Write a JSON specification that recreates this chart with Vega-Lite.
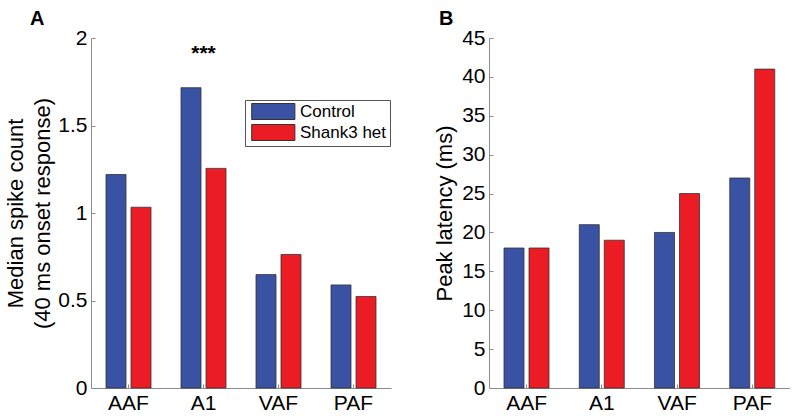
{
  "$schema": "https://vega.github.io/schema/vega-lite/v6.json",
  "padding": {"left": 4, "top": 9, "right": 0, "bottom": 0},
  "background": "white",
  "datasets": {
    "spikes": [
      {"region": "AAF", "group": "Control", "value": 1.22},
      {"region": "AAF", "group": "Shank3 het", "value": 1.033},
      {"region": "A1", "group": "Control", "value": 1.716},
      {"region": "A1", "group": "Shank3 het", "value": 1.255},
      {"region": "VAF", "group": "Control", "value": 0.648},
      {"region": "VAF", "group": "Shank3 het", "value": 0.763},
      {"region": "PAF", "group": "Control", "value": 0.589},
      {"region": "PAF", "group": "Shank3 het", "value": 0.523}
    ],
    "latency": [
      {"region": "AAF", "group": "Control", "value": 18},
      {"region": "AAF", "group": "Shank3 het", "value": 18},
      {"region": "A1", "group": "Control", "value": 21},
      {"region": "A1", "group": "Shank3 het", "value": 19},
      {"region": "VAF", "group": "Control", "value": 20},
      {"region": "VAF", "group": "Shank3 het", "value": 25},
      {"region": "PAF", "group": "Control", "value": 27},
      {"region": "PAF", "group": "Shank3 het", "value": 41}
    ],
    "sig": [
      {"region": "A1", "label": "***", "value": 1.875}
    ]
  },
  "spacing": 42,
  "resolve": {"legend": {"color": "independent"}},
  "hconcat": [
    {
      "width": 300,
      "height": 350,
      "title": {"text": "A", "anchor": "start", "frame": "group", "dx": -61, "offset": -2},
      "layer": [
        {
          "data": {"name": "spikes"},
          "mark": {"type": "bar", "stroke": "#333", "strokeWidth": 0.8},
          "encoding": {
            "x": {"field": "region", "type": "nominal", "sort": ["AAF", "A1", "VAF", "PAF"],
                  "scale": {"paddingInner": 0, "paddingOuter": 0},
                  "axis": {"title": null, "labelAngle": 0}},
            "xOffset": {"field": "group", "type": "nominal", "sort": ["Control", "Shank3 het"],
                        "scale": {"paddingInner": 0.2, "paddingOuter": 0.6}},
            "y": {"field": "value", "type": "quantitative",
                  "scale": {"domain": [0, 2], "nice": false, "zero": true},
                  "axis": {"values": [0, 0.5, 1, 1.5, 2], "format": "~g",
                           "title": ["Median spike count", "(40 ms onset response)"],
                           "titleLineHeight": 27, "titlePadding": 3}},
            "color": {"field": "group", "type": "nominal",
                      "scale": {"domain": ["Control", "Shank3 het"], "range": ["#3a52a3", "#ec1c24"]},
                      "legend": {"orient": "none", "legendX": 154, "legendY": 62}}
          }
        },
        {
          "data": {"name": "sig"},
          "mark": {"type": "text", "fontSize": 21, "fontWeight": "bold", "font": "Liberation Sans", "baseline": "alphabetic", "color": "black"},
          "encoding": {
            "x": {"field": "region", "type": "nominal", "sort": ["AAF", "A1", "VAF", "PAF"]},
            "y": {"field": "value", "type": "quantitative"},
            "text": {"field": "label"}
          }
        }
      ]
    },
    {
      "width": 301,
      "height": 350,
      "title": {"text": "B", "anchor": "start", "frame": "group", "dx": -50, "offset": -2},
      "data": {"name": "latency"},
      "mark": {"type": "bar", "stroke": "#333", "strokeWidth": 0.8},
      "encoding": {
        "x": {"field": "region", "type": "nominal", "sort": ["AAF", "A1", "VAF", "PAF"],
              "scale": {"paddingInner": 0, "paddingOuter": 0},
              "axis": {"title": null, "labelAngle": 0}},
        "xOffset": {"field": "group", "type": "nominal", "sort": ["Control", "Shank3 het"],
                    "scale": {"paddingInner": 0.2, "paddingOuter": 0.6}},
        "y": {"field": "value", "type": "quantitative",
              "scale": {"domain": [0, 45], "nice": false},
              "axis": {"values": [0, 5, 10, 15, 20, 25, 30, 35, 40, 45], "title": "Peak latency (ms)", "titlePadding": 5}},
        "color": {"field": "group", "type": "nominal",
                  "scale": {"domain": ["Control", "Shank3 het"], "range": ["#3a52a3", "#ec1c24"]},
                  "legend": null}
      }
    }
  ],
  "config": {
    "font": "Liberation Sans",
    "view": {"stroke": null},
    "title": {"fontSize": 20, "fontWeight": "bold", "font": "Liberation Sans", "color": "black"},
    "axis": {
      "grid": false,
      "domainColor": "#8c8c8c",
      "tickColor": "#8c8c8c",
      "tickSize": -4,
      "labelFont": "Liberation Sans",
      "labelFontSize": 21,
      "labelColor": "black",
      "labelPadding": 8,
      "titleFont": "Liberation Sans",
      "titleFontSize": 22,
      "titleFontWeight": "normal",
      "titleColor": "black",
      "titlePadding": 8
    },
    "legend": {
      "title": null,
      "symbolType": "M-0.6,-1H4.8V1H-0.6Z",
      "symbolSize": 256,
      "symbolStrokeColor": "#333",
      "symbolStrokeWidth": 1,
      "symbolOpacity": 1,
      "labelFontSize": 17,
      "labelFont": "Liberation Sans",
      "labelColor": "black",
      "labelOffset": 35,
      "rowPadding": 0,
      "padding": 3,
      "strokeColor": "#555",
      "fillColor": "white"
    }
  }
}
